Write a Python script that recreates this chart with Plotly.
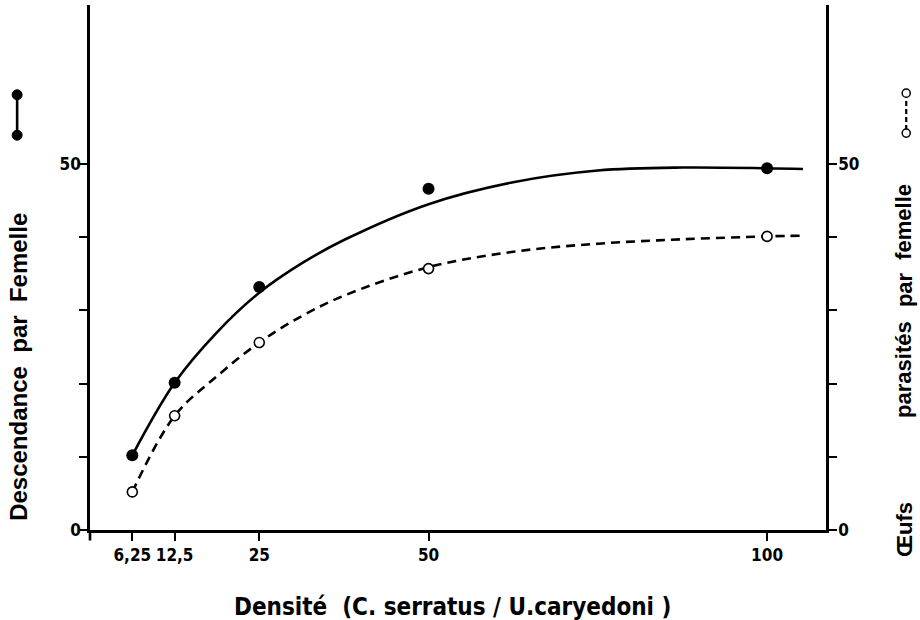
import plotly.graph_objects as go

# ---- data ----
density = [6.25, 12.5, 25, 50, 100]
descendance = [10.2, 20.1, 33.2, 46.6, 49.4]
oeufs = [5.2, 15.6, 25.6, 35.7, 40.1]

# smooth hand-drawn trend curves
desc_curve_x = [6.25, 12.5, 18.75, 25, 31.25, 37.5, 50, 62.5, 75, 87.5, 100, 105.3]
desc_curve_y = [10.2, 20.1, 27.0, 32.4, 36.4, 39.6, 44.5, 47.5, 49.1, 49.5, 49.4, 49.3]
oeufs_curve_x = [6.25, 12.5, 18.75, 25, 31.25, 37.5, 50, 62.5, 75, 87.5, 100, 105.3]
oeufs_curve_y = [5.2, 15.6, 21.0, 25.6, 29.2, 32.0, 35.9, 38.0, 39.1, 39.7, 40.1, 40.2]

x_tickvals = [6.25, 12.5, 25, 50, 100]
x_ticktext = ["6,25", "12,5", "25", "50", "100"]
y_tickvals = [0, 10, 20, 30, 40, 50]
y_ticktext = ["0", "", "", "", "", "50"]

left_title = "Descendance\u00a0\u00a0par\u00a0\u00a0Femelle"
right_title_words = ["Œufs", "parasités", "par", "femelle"]
x_title = "Densité\u00a0\u00a0(C.\u00a0serratus\u00a0/\u00a0U.caryedoni\u00a0)"

NARROW = "Liberation Sans Narrow, DejaVu Sans Condensed, Arial Narrow, sans-serif"
SANS = "Liberation Sans"

fig = go.Figure()
fig.add_trace(go.Scatter(x=desc_curve_x, y=desc_curve_y, mode="lines",
                         line=dict(color="black", width=2.6, shape="spline", smoothing=1.0),
                         hoverinfo="skip", showlegend=False))
fig.add_trace(go.Scatter(x=oeufs_curve_x, y=oeufs_curve_y, mode="lines", yaxis="y2",
                         line=dict(color="black", width=2.6, shape="spline", smoothing=1.0,
                                   dash="9px,6px"),
                         hoverinfo="skip", showlegend=False))
fig.add_trace(go.Scatter(x=density, y=descendance, mode="markers",
                         marker=dict(color="black", size=12, symbol="circle"),
                         showlegend=False))
fig.add_trace(go.Scatter(x=density, y=oeufs, mode="markers", yaxis="y2",
                         marker=dict(color="white", size=10, symbol="circle",
                                     line=dict(color="black", width=1.6)),
                         showlegend=False))

tickfont = dict(family=NARROW, size=17, color="black", weight="bold")
axis_common = dict(showgrid=False, zeroline=False, showline=True, linecolor="black",
                   linewidth=2.6, ticks="outside", ticklen=8, tickwidth=1.6,
                   tickcolor="black", tickfont=tickfont)

fig.update_layout(
    width=920, height=620,
    margin=dict(l=90, r=94, t=5, b=90),
    plot_bgcolor="white", paper_bgcolor="white",
    xaxis=dict(range=[0, 108.7], tickvals=x_tickvals, ticktext=x_ticktext, **axis_common),
    yaxis=dict(range=[0, 71.7], tickvals=y_tickvals, ticktext=y_ticktext,
               ticklabelstandoff=-5, **axis_common),
    yaxis2=dict(range=[0, 71.7], tickvals=y_tickvals, ticktext=y_ticktext,
                overlaying="y", side="right", ticklabelstandoff=-2, **axis_common),
)

# x axis title
fig.add_annotation(text=x_title, xref="paper", yref="paper",
                   x=0.493, y=-0.147, xanchor="center", yanchor="middle", showarrow=False,
                   font=dict(family=NARROW, size=24, color="black", weight="bold"))

# y axis titles
fig.add_annotation(text=left_title, xref="paper", yref="paper", x=-0.097, y=0.31,
                   xanchor="center", yanchor="middle", showarrow=False, textangle=-90,
                   font=dict(family=SANS, size=24, color="black", weight="bold"))
right_font = dict(family=SANS, size=22, color="black", weight="bold")
right_pos = [0.0, 0.305, 0.457, 0.587]
for w, yy in zip(right_title_words, right_pos):
    fig.add_annotation(text=w, xref="paper", yref="paper", x=1.106, y=yy,
                       xanchor="center", yanchor="middle", showarrow=False,
                       textangle=-90, font=right_font)

# left axis extension below the x axis
fig.add_shape(type="line", xref="paper", yref="paper", x0=0, x1=0, y0=0, y1=-0.02,
              line=dict(color="black", width=2.6))

# legend glyphs next to the titles
LX = -0.099
fig.add_shape(type="line", xref="paper", yref="paper", x0=LX, x1=LX,
              y0=0.752, y1=0.829, line=dict(color="black", width=2.6))
for yy in (0.752, 0.829):
    fig.add_shape(type="circle", xref="paper", yref="paper",
                  x0=LX - 0.0068, x1=LX + 0.0068, y0=yy - 0.0095, y1=yy + 0.0095,
                  fillcolor="black", line=dict(color="black", width=1))
RX = 1.109
fig.add_shape(type="line", xref="paper", yref="paper", x0=RX, x1=RX,
              y0=0.762, y1=0.826, line=dict(color="black", width=2.2, dash="5px,3px"))
for yy in (0.756, 0.832):
    fig.add_shape(type="circle", xref="paper", yref="paper",
                  x0=RX - 0.0055, x1=RX + 0.0055, y0=yy - 0.0078, y1=yy + 0.0078,
                  fillcolor="white", line=dict(color="black", width=1.5))

fig.write_html("out.html")
